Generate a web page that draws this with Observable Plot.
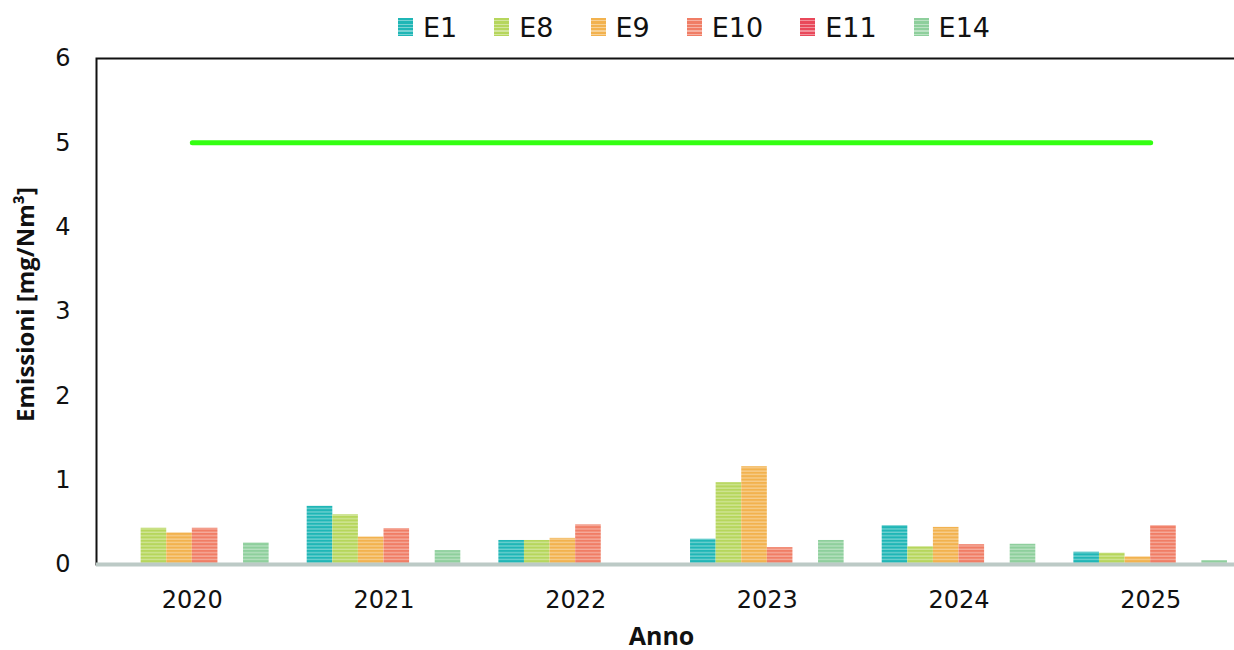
<!DOCTYPE html>
<html>
<head>
<meta charset="utf-8">
<script src="https://cdn.jsdelivr.net/npm/d3@7"></script>
<script src="https://cdn.jsdelivr.net/npm/@observablehq/plot@0.6"></script>
<style>
  html, body { margin: 0; padding: 0; background: #fff; overflow: hidden; }
  #wrap { position: relative; width: 1234px; height: 650px; overflow: hidden; }
  #legenda {
    position: absolute; top: 10px; left: 398px; height: 34px;
    display: flex; align-items: center; gap: 37px;
    font-family: "DejaVu Sans", sans-serif; font-size: 27px; color: #111;
  }
  #legenda .voce { display: flex; align-items: center; gap: 10px; }
  #legenda .campione { width: 15px; height: 18px; }
  #grafico { position: absolute; top: 40px; left: 0; width: 1250px; }
  #grafico svg { max-width: none !important; }
</style>
</head>
<body>
<div id="wrap">
  <div id="legenda"></div>
  <div id="grafico"></div>
</div>
<script>
// Emissioni annuali per punto di emissione [mg/Nm³]
const anni  = ["2020", "2021", "2022", "2023", "2024", "2025"];
const serie = ["E1", "E8", "E9", "E10", "E11", "E14"];
const E1  = [null, 0.69, 0.285, 0.30, 0.46, 0.146];
const E8  = [0.43, 0.59, 0.285, 0.97, 0.21, 0.134];
const E9  = [0.375, 0.325, 0.31, 1.16, 0.44, 0.09];
const E10 = [0.43, 0.425, 0.47, 0.20, 0.235, 0.46];
const E11 = [null, null, null, null, null, null];
const E14 = [0.255, 0.165, null, 0.285, 0.24, 0.045];
const limite = [5, 5, 5, 5, 5, 5];
const tickY = [0, 1, 2, 3, 4, 5, 6];
const colori = ["#1fb6b6", "#b6d65c", "#f2b24e", "#f07d65", "#e9485a", "#8ecf9c"];

const valori = {E1, E8, E9, E10, E11, E14};
const righe = serie.flatMap(s =>
  anni.map((a, i) => ({serie: s, anno: a, valore: valori[s][i]}))
      .filter(d => d.valore != null)
);
const limiti = anni.map((a, i) => ({anno: a, valore: limite[i]}));

// geometry of the grouped bars
const larghezza = 1250, mSx = 96, mDx = 4;
const passo = (larghezza - mSx - mDx) / anni.length;
const barra = 25.6;
const padInner = 1 - barra / passo;

const marks = [
  Plot.frame({stroke: "#111", strokeWidth: 2}),
  ...serie.map((s, i) => Plot.barY(righe.filter(d => d.serie === s), {
    x: "anno", y: "valore",
    fill: `url(#righe-${s})`,
    dx: (i - (serie.length - 1) / 2) * barra
  })),
  Plot.ruleY([0], {stroke: "#bccac6", strokeWidth: 4}),
  Plot.lineY(limiti, {x: "anno", y: "valore", stroke: "#33ff11", strokeWidth: 5, strokeLinecap: "round"}),
  Plot.axisY(tickY, {tickSize: 0, tickPadding: 26, fontSize: 24, label: null, tickFormat: d => String(d)}),
  Plot.axisX({tickSize: 0, tickPadding: 26, fontSize: 24, label: null}),
  Plot.text(["Emissioni [mg/Nm³]"], {
    frameAnchor: "left", dx: -70, dy: -7, rotate: -90,
    textAnchor: "middle", lineAnchor: "middle",
    fontSize: 24, fontWeight: "bold", fontFamily: "Open Sans"
  }),
  Plot.text(["Anno"], {
    frameAnchor: "bottom", dx: -10, dy: 72,
    textAnchor: "middle", lineAnchor: "middle",
    fontSize: 25, fontWeight: "bold", fontFamily: "Open Sans"
  })
];

const svg = Plot.plot({
  width: larghezza,
  height: 610,
  marginLeft: mSx,
  marginRight: mDx,
  marginTop: 18,
  marginBottom: 86,
  style: {fontFamily: "DejaVu Sans", color: "#111", background: "#fff", maxWidth: "none"},
  x: {domain: anni, paddingInner: padInner, paddingOuter: padInner / 2, round: false, axis: null},
  y: {domain: [0, 6], axis: null},
  marks
});

// striped fills for the bars
const ns = "http://www.w3.org/2000/svg";
const defs = document.createElementNS(ns, "defs");
serie.forEach((s, i) => {
  const p = document.createElementNS(ns, "pattern");
  p.setAttribute("id", `righe-${s}`);
  p.setAttribute("patternUnits", "userSpaceOnUse");
  p.setAttribute("width", 10);
  p.setAttribute("height", 3.4);
  const base = document.createElementNS(ns, "rect");
  base.setAttribute("width", 10); base.setAttribute("height", 3.4);
  base.setAttribute("fill", colori[i]);
  const riga = document.createElementNS(ns, "rect");
  riga.setAttribute("y", 2.1); riga.setAttribute("width", 10); riga.setAttribute("height", 1.2);
  riga.setAttribute("fill", "#fff"); riga.setAttribute("fill-opacity", 0.4);
  p.append(base, riga);
  defs.append(p);
});
svg.insertBefore(defs, svg.firstChild);
svg.style.maxWidth = "none";
document.getElementById("grafico").append(svg);

// legend
const leg = document.getElementById("legenda");
serie.forEach((s, i) => {
  const v = document.createElement("div");
  v.className = "voce";
  const c = document.createElement("div");
  c.className = "campione";
  c.style.background = `repeating-linear-gradient(to bottom, ${colori[i]} 0px, ${colori[i]} 2.2px, rgba(255,255,255,0.4) 2.2px, rgba(255,255,255,0.4) 3.4px), ${colori[i]}`;
  const t = document.createElement("span");
  t.textContent = s;
  v.append(c, t);
  leg.append(v);
});
</script>
</body>
</html>
